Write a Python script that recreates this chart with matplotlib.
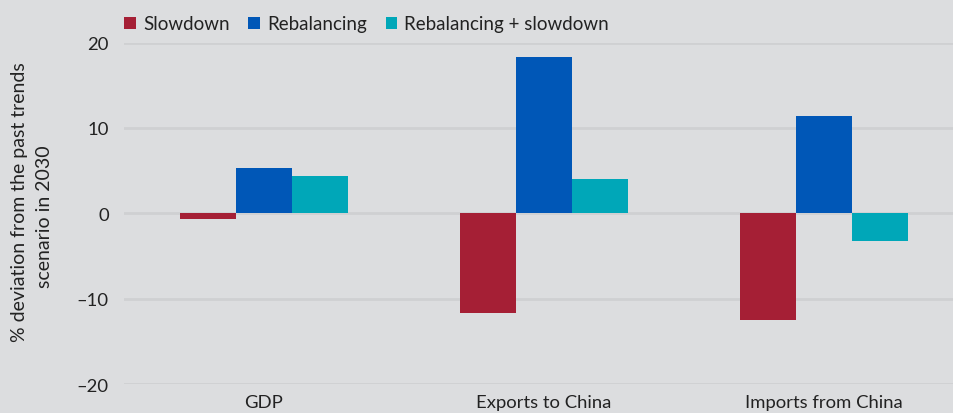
import numpy as np
import matplotlib.pyplot as plt

categories = ['GDP', 'Exports to China', 'Imports from China']
series = ['Slowdown', 'Rebalancing', 'Rebalancing + slowdown']
slowdown = [-0.7, -11.7, -12.5]
rebalancing = [5.3, 18.3, 11.4]
rebal_slow = [4.35, 4.0, -3.2]
colors = ['#a51f35', '#0057b7', '#00a7b8']
ylabel_lines = ['% deviation from the past trends', 'scenario in 2030']

bg = '#dcdddf'
plt.rcParams['font.family'] = ['Lato', 'DejaVu Sans']

fig = plt.figure(figsize=(9.54, 4.14), dpi=100, facecolor=bg)
ax = fig.add_axes([124 / 954, 1 - 385 / 414, 830 / 954, 341.5 / 414], facecolor=bg)

x = np.arange(len(categories))
width = 0.2
for i, (vals, name) in enumerate(zip([slowdown, rebalancing, rebal_slow], series)):
    ax.bar(x + (i - 1) * width, vals, width, color=colors[i], label=name, zorder=3)

ax.set_xlim(-0.5, 2.464)
ax.set_ylim(-20, 20)
ax.set_yticks([-20, -10, 0, 10, 20])
ax.set_yticklabels(['\u201320', '\u201310', '0', '10', '20'])
ax.set_xticks(x)
ax.set_xticklabels(categories)
ax.yaxis.grid(True, color='#cfd0d2', linewidth=2, zorder=0)
ax.tick_params(length=0, labelsize=13.3, colors='#222222')
ax.tick_params(axis='y', pad=11)
ax.tick_params(axis='x', pad=7)
for s in ax.spines.values():
    s.set_visible(False)

# y label: two centred lines
for j, line in enumerate(ylabel_lines):
    fig.text((20 + 25 * j) / 954, 1 - (202 + 15 * j) / 414, line, rotation=90,
             ha='center', va='center', fontsize=14, color='#222222')

ax.legend(loc='lower left', bbox_to_anchor=(-0.012, 1.0), ncol=3, frameon=False, fontsize=13.5,
          handlelength=0.6, handleheight=0.6, handletextpad=0.4, columnspacing=1.0, borderaxespad=0.15,
          labelcolor='#222222')

fig.savefig('out.png', dpi=100, facecolor=bg)
